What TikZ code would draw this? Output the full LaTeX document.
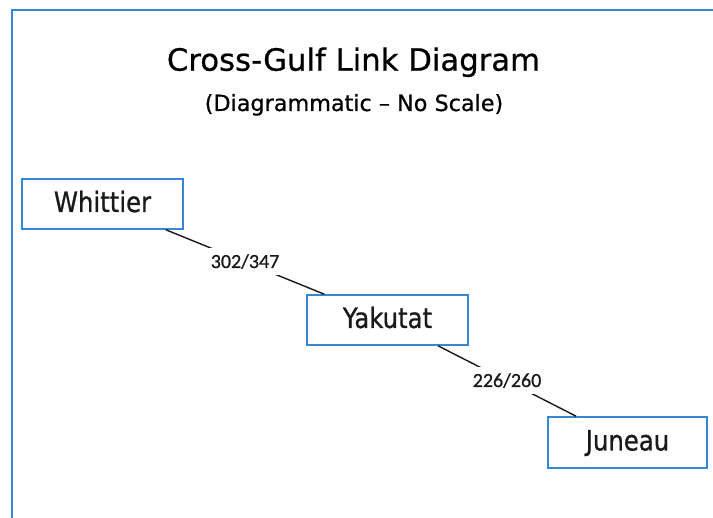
\documentclass[tikz,border=0pt]{standalone}
\usepackage{fontspec}
\newfontfamily\titlefont[FakeBold=0.6]{DejaVu Sans}
\newfontfamily\boxfont[FakeStretch=0.87,FakeBold=0.8]{DejaVu Sans}
\newfontfamily\numfont[FakeBold=0.8]{Carlito}
\definecolor{frameblue}{RGB}{52,136,210}
\definecolor{inktext}{RGB}{26,26,26}
\tikzset{
  station/.style={draw=frameblue, line width=1.5pt, fill=white, minimum width=161pt, minimum height=50pt,
    inner sep=0pt, text height=16pt, text depth=0pt, font=\boxfont\fontsize{28}{30}\selectfont, text=inktext},
  link/.style={draw=inktext, line width=1.4pt},
  dist/.style={fill=white, inner sep=0pt, minimum width=72pt, minimum height=27pt,
    text height=12pt, text depth=0pt, font=\numfont\fontsize{20}{22}\selectfont, text=inktext}
}
\begin{document}
\begin{tikzpicture}[x=1pt,y=-1pt]
\useasboundingbox (0,0) rectangle (713,518);
\clip (0,0) rectangle (713,518);
\draw[frameblue, line width=2pt] (12,10) rectangle (730,540);
\node[anchor=base, font=\titlefont\fontsize{30.7}{36}\selectfont, text=black, inner sep=0pt] (title) at (353.5,70.7) {Cross-Gulf Link Diagram};
\node[anchor=base, font=\titlefont\fontsize{22.3}{26}\selectfont, text=black, inner sep=0pt] (subtitle) at (354,111) {(Diagrammatic – No Scale)};
\node[station] (whittier) at (102.5,204) {Whittier};
\node[station] (yakutat) at (387.5,320) {Yakutat};
\node[station, minimum width=159pt, minimum height=51pt] (juneau) at (627.5,442.5) {Juneau};
\draw[link] (whittier) -- node[dist] (d1) {302/347} (yakutat);
\draw[link] (yakutat) -- node[dist] (d2) {226/260} (juneau);
\end{tikzpicture}
\end{document}
